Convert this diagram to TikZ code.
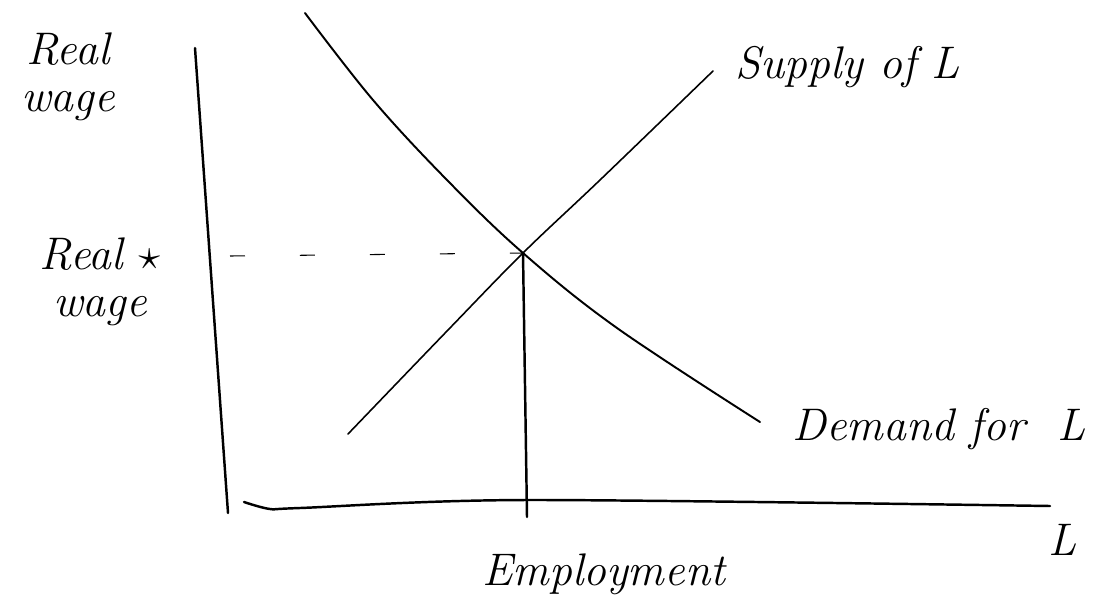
\documentclass[tikz,border=0pt]{standalone}
\usepackage{fontspec}
\usetikzlibrary{positioning}
\tikzset{
  hand/.style={font=\fontsize{26}{27}\selectfont\itshape,inner sep=0pt},
  axisline/.style={line width=1.4pt,line cap=round},
  curveline/.style={line width=1.1pt,line cap=round},
  dashline/.style={line width=0.6pt,dash pattern=on 0.3cm off 1.1cm}
}

\begin{document}
\begin{tikzpicture}[x=0.02cm,y=-0.02cm]
  \useasboundingbox (0,0) rectangle (1109,599);
  % key points
  \coordinate (ytop) at (195,48);
  \coordinate (ybot) at (228,513);
  \coordinate (xstart) at (244,502);
  \coordinate (xend) at (1050,506);
  \coordinate (eq) at (523,253);
  \coordinate (emp) at (527,517);
  \coordinate (wstar) at (230,256);
  \coordinate (dtop) at (305,13);
  \coordinate (dend) at (760,422);
  \coordinate (slow) at (348,434);
  \coordinate (stop) at (713,71);
  % axes
  \draw[axisline] (ytop) -- (ybot);
  \draw[axisline] plot[smooth,tension=0.5] coordinates {(xstart) (270,509) (300,508) (527,500) (xend)};
  % demand and supply
  \draw[curveline] plot[smooth,tension=0.6] coordinates {(dtop) (373,100) (447,180) (eq) (617,328) (dend)};
  \draw[line width=0.9pt,line cap=round] plot[smooth,tension=0.6] coordinates {(slow) (448,330) (eq) (600,180) (stop)};
  % equilibrium
  \draw[dashline] (wstar) -- (eq);
  \draw[axisline] (eq) -- (emp);
  % labels
  \node[hand,align=center] (ylab) at (68,77) {Real\\wage};
  \node[hand,align=center] (wlab) at (100,282) {Real $\star$\\wage};
  \node[hand,anchor=base west] (slab) at (735,78) {Supply of L};
  \node[hand,anchor=base west] (dlab) at (792,440) {Demand for\hspace{0.7em}L};
  \node[hand,anchor=base west] (xlab) at (1048,555) {L};
  \node[hand,anchor=base west] (elab) at (482,585) {Employment};
\end{tikzpicture}
\end{document}
